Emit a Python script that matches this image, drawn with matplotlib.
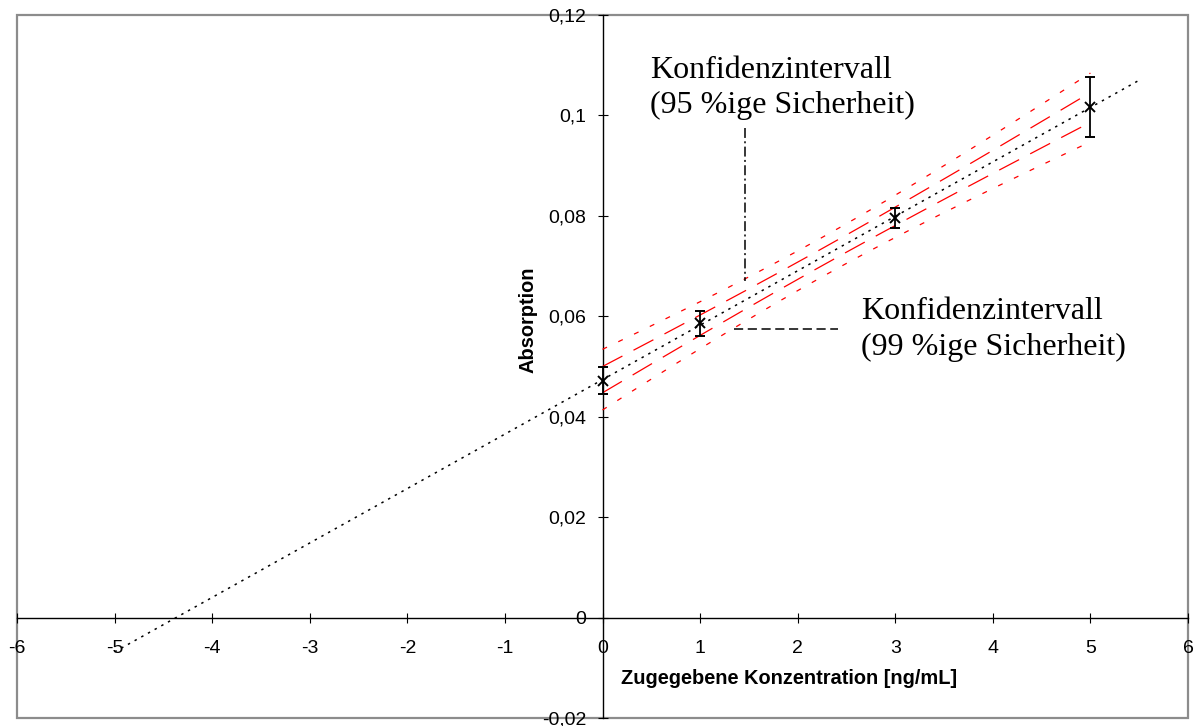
import numpy as np
import matplotlib
matplotlib.use("Agg")
import matplotlib.pyplot as plt
from matplotlib.patches import Rectangle
from matplotlib.ticker import FixedLocator, FuncFormatter

# Standard-addition data: added concentration vs. measured absorption
konzentration = [0, 1, 3, 5]
absorption = [0.0472, 0.0586, 0.0796, 0.1017]
fehler = [0.0027, 0.0025, 0.0020, 0.0060]

# statistics for the confidence bands of the calibration line
s_y = 0.00079          # residual standard deviation
t_95 = 4.303           # t(0.975, f=2)
t_99 = 9.925           # t(0.995, f=2)

x_ticks = [-6, -5, -4, -3, -2, -1, 0, 1, 2, 3, 4, 5, 6]
y_ticks = [-0.02, 0, 0.02, 0.04, 0.06, 0.08, 0.1, 0.12]

plt.rcParams["font.family"] = ["Liberation Sans", "DejaVu Sans"]

W, H = 1196, 726
fig = plt.figure(figsize=(W / 100, H / 100), dpi=100)
ax = fig.add_axes([17 / W, 8 / H, 1171 / W, 703 / H])
ax.set_xlim(-6, 6)
ax.set_ylim(-0.02, 0.12)

x = np.array(konzentration, dtype=float)
y = np.array(absorption, dtype=float)
steigung, achse = np.polyfit(x, y, 1)

# regression line, extended to the x-axis intercept
xl = np.linspace(-5, 5.5, 200)
ax.plot(xl, achse + steigung * xl, color="black", lw=1.1,
        linestyle=(0, (1.6, 3.4)), zorder=3)

# confidence bands over the measured range
xb = np.linspace(0, 5, 200)
n = len(x)
sxx = np.sum((x - x.mean()) ** 2)
w = s_y * np.sqrt(1 / n + (xb - x.mean()) ** 2 / sxx)
yb = achse + steigung * xb
for sgn in (1, -1):
    ax.plot(xb, yb + sgn * t_95 * w, color="#ff0000", lw=0.9,
            linestyle=(0, (18, 10)), zorder=2)
    ax.plot(xb, yb + sgn * t_99 * w, color="#ff0000", lw=0.9,
            linestyle=(0, (4, 10)), zorder=2)

# measured points with error bars
ax.errorbar(x, y, yerr=fehler, fmt="x", color="black", ms=7, mew=1.4,
            elinewidth=1.3, capsize=3.8, capthick=1.3, zorder=4)

# axes crossing at the origin
for side in ("top", "right"):
    ax.spines[side].set_visible(False)
ax.spines["left"].set_position(("data", 0))
ax.spines["bottom"].set_position(("data", 0))
for side in ("left", "bottom"):
    ax.spines[side].set_color("black")
    ax.spines[side].set_linewidth(1.0)
    ax.spines[side].set_zorder(1)

ax.xaxis.set_major_locator(FixedLocator(x_ticks))
ax.yaxis.set_major_locator(FixedLocator(y_ticks))
ax.xaxis.set_major_formatter(FuncFormatter(lambda v, p: f"{v:g}"))
ax.yaxis.set_major_formatter(FuncFormatter(lambda v, p: f"{v:g}".replace(".", ",")))
ax.tick_params(axis="both", direction="inout", length=7.2, width=0.8,
               labelsize=14, color="black")
ax.tick_params(axis="x", pad=12.5)
ax.tick_params(axis="y", pad=8)

# plot-area frame
ax.add_patch(Rectangle((0, 0), 1, 1, transform=ax.transAxes, fill=False,
                       edgecolor="#8c8c8c", lw=1.6, clip_on=False, zorder=0))

fig.text(789.5 / W, 1 - 678 / H, "Zugegebene Konzentration [ng/mL]",
         ha="center", va="center", fontsize=14.4, fontweight="bold")
fig.text(527.5 / W, 1 - 320 / H, "Absorption", rotation=90,
         ha="center", va="center", fontsize=14.4, fontweight="bold")

# labels for the confidence bands
serif = ["Liberation Serif", "DejaVu Serif"]
ax.plot([1.465, 1.465], [0.0974, 0.0671], color="black", lw=1.1,
        linestyle=(0, (6.5, 2.2, 1.3, 2.2)))
ax.text(0.49, 0.1074, "Konfidenzintervall", family=serif, fontsize=23,
        va="baseline", ha="left")
ax.text(0.49, 0.1005, "(95 %ige Sicherheit)", family=serif, fontsize=23,
        va="baseline", ha="left")

ax.plot([1.35, 2.41], [0.0575, 0.0575], color="black", lw=1.1,
        linestyle=(0, (6, 3)))
ax.text(2.654, 0.0594, "Konfidenzintervall", family=serif, fontsize=23,
        va="baseline", ha="left")
ax.text(2.654, 0.0522, "(99 %ige Sicherheit)", family=serif, fontsize=23,
        va="baseline", ha="left")

fig.savefig("out.png", dpi=100)
